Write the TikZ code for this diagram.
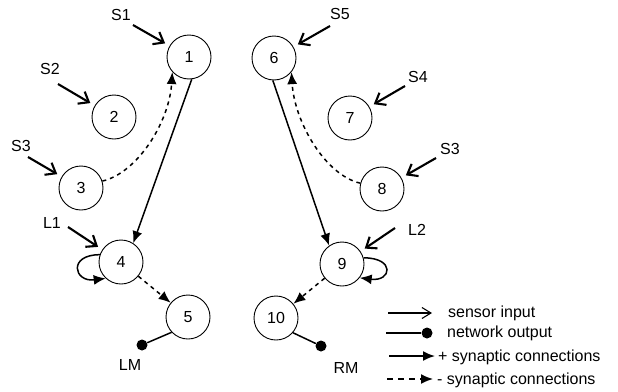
\documentclass[tikz,border=0pt]{standalone}
\usepackage{fontspec}
\setmainfont{Liberation Sans}
\usetikzlibrary{calc, arrows.meta}

\begin{document}
\begin{tikzpicture}[x=1pt,y=-1pt,inner sep=0pt,font=\fontsize{16}{19}\selectfont,
  neuron/.style={draw,circle,line width=.9pt,minimum size=44pt},
  lbl/.style={anchor=base},
  motor/.style={circle,fill=black,minimum size=11pt},
  sensor/.style={line width=2.1pt,shorten >=5pt,-{Straight Barb[length=9pt,width=14pt]}},
  excite/.style={line width=1.5pt,-{Latex[length=12pt,width=10pt]}},
  inhibit/.style={excite,dash pattern=on 4pt off 4pt},
  output/.style={line width=1.5pt}]%,>=stealth
\useasboundingbox (0,0) rectangle (618,391);
% left half
\draw node [neuron] (N1) at (189,57)  {1};
\draw node [neuron] (N2) at (114,117) {2};
\draw node [neuron] (N3) at (81,188)  {3};
\draw node [neuron] (N4) at (121,262) {4};
\draw node [neuron] (N5) at (188,317) {5};
% right half
\draw node [neuron] (N6) at (274,58)  {6};
\draw node [neuron] (N7) at (350,118) {7};
\draw node [neuron] (N8) at (382,189) {8};
\draw node [neuron] (N9) at (342,264) {9};
\draw node [neuron] (N10) at (276,318) {10};
% sensors
\node [lbl] (S1) at (121,20) {S1};
\node [lbl] (S2) at (50,74) {S2};
\node [lbl] (S3a) at (21,151) {S3};
\node [lbl] (L1) at (52,228) {L1};
\node [lbl] (S5) at (340,19) {S5};
\node [lbl] (S4) at (418,82) {S4};
\node [lbl] (S3b) at (450,154) {S3};
\node [lbl] (L2) at (417,235) {L2};
\coordinate (A1) at (133,25);
\coordinate (A2) at (58,84);
\coordinate (A3) at (28,157);
\coordinate (A4) at (68,227);
\coordinate (A6) at (330,26);
\coordinate (A7) at (405,86);
\coordinate (A8) at (436,158);
\coordinate (A9) at (395,228);
\draw [sensor] (A1) -- (N1);
\draw [sensor] (A2) -- (N2);
\draw [sensor] (A3) -- (N3);
\draw [sensor] (A4) -- (N4);
\draw [sensor] (A6) -- (N6);
\draw [sensor] (A7) -- (N7);
\draw [sensor] (A8) -- (N8);
\draw [sensor] (A9) -- (N9);
% synapses
\draw [excite] (N1.-83) -- (N4.57);
\draw [excite] (N6.-93) -- (N9.125);
\draw [inhibit] (N3.18) .. controls ($ (N3.18) + (35,-8) $) and ($ (N1.-138) + (-3,50) $) .. (N1.-138);
\draw [inhibit] (N8.165) .. controls ($ (N8.165) + (-35,-8) $) and ($ (N6.-39) + (3,50) $) .. (N6.-39);
\draw [inhibit] (N4) -- (N5);
\draw [inhibit] (N9) -- (N10);
\draw [excite] (N4.161) .. controls ($ (N4.161) + (-32,0) $) and ($ (N4.-133) + (-32,4) $) .. (N4.-133);
\draw [excite] (N9.16) .. controls ($ (N9.16) + (32,0) $) and ($ (N9.-38) + (32,4) $) .. (N9.-38);
% motors
\node [motor] (LMd) at (142,345) {};
\node [motor] (RMd) at (321,346) {};
\draw [output] (N5.-137) -- (LMd);
\draw [output] (N10.-41) -- (RMd);
\node [lbl] (LM) at (130,370) {LM};
\node [lbl] (RM) at (346,373) {RM};
% legend
\coordinate (K1a) at (388,313);
\coordinate (K1b) at (432,313);
\draw [line width=1.1pt,-{Straight Barb[length=9pt,width=11pt]}] (K1a) -- (K1b);
\node [anchor=base west] (T1) at (448,317) {sensor input};
\coordinate (K2a) at (386,333);
\node [motor,minimum size=11pt] (K2b) at (427,333) {};
\draw [output] (K2a) -- (K2b);
\node [anchor=base west] (T2) at (447,337) {network output};
\coordinate (K3a) at (389,356);
\coordinate (K3b) at (435,356);
\draw [excite,line width=1.8pt] (K3a) -- (K3b);
\node [anchor=base west] (T3) at (438,361) {+ synaptic connections};
\coordinate (K4a) at (387,379);
\coordinate (K4b) at (433,379);
\draw [excite,line width=1.6pt,dash pattern=on 6pt off 5pt] (K4a) -- (K4b);
\node [anchor=base west] (T4) at (437,384) {- synaptic connections};
\end{tikzpicture}
\end{document}
